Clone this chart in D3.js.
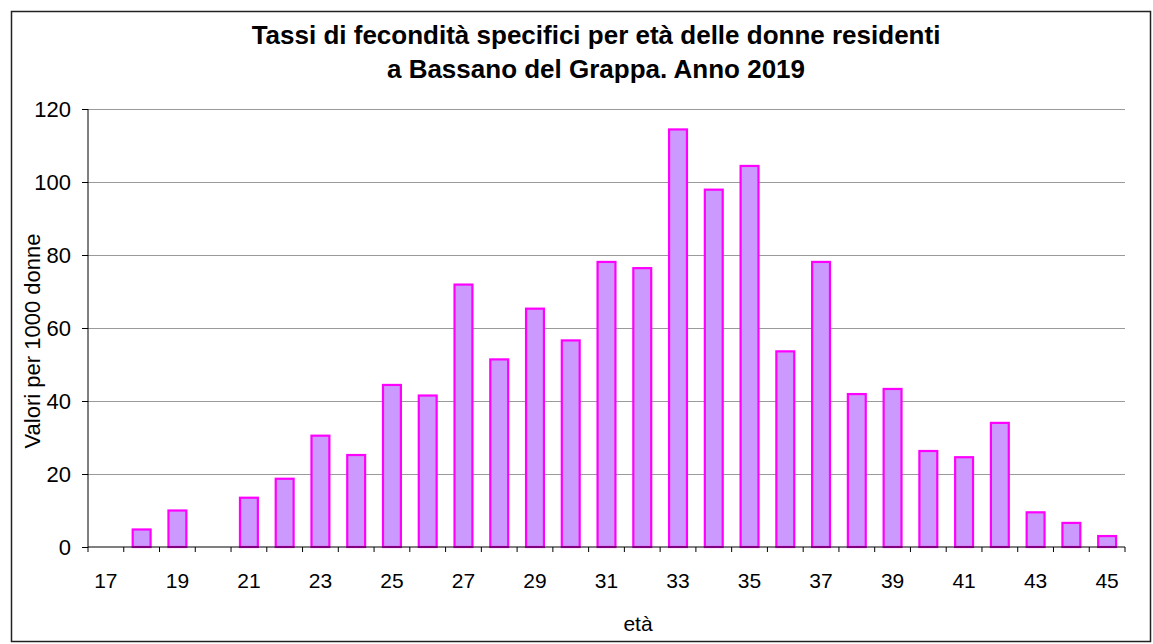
<!DOCTYPE html>
<html>
<head>
<meta charset="utf-8">
<script src="https://cdn.jsdelivr.net/npm/d3@7"></script>
<style>
  body { margin: 0; background: #fff; }
  text { font-family: "Liberation Sans", Arial, sans-serif; fill: #000; }
</style>
</head>
<body>
<svg id="chart" width="1153" height="644"></svg>
<script>
// data
var ages = [17, 18, 19, 20, 21, 22, 23, 24, 25, 26, 27, 28, 29, 30, 31,
    32, 33, 34, 35, 36, 37, 38, 39, 40, 41, 42, 43, 44, 45];
var rates = [0, 4.8, 10.0, 0, 13.5, 18.7, 30.5, 25.2, 44.4, 41.5, 71.9, 51.4, 65.3, 56.6, 78.1,
    76.4, 114.4, 97.9, 104.4, 53.6, 78.1, 41.9, 43.3, 26.3, 24.6, 34.0, 9.5, 6.6, 3.0];
var yTicks = [0, 20, 40, 60, 80, 100, 120];
var xLabels = [17, 19, 21, 23, 25, 27, 29, 31, 33, 35, 37, 39, 41, 43, 45];
var titleLines = ["Tassi di fecondità specifici per età delle donne residenti",
    "a Bassano del Grappa. Anno 2019"];

var plot = { left: 88, right: 1125, top: 109, bottom: 547 };

var svg = d3.select('#chart');

// outer frame
svg.append('rect')
    .attr('x', 11.5).attr('y', 11.5)
    .attr('width', 1139).attr('height', 630)
    .attr('fill', 'none')
    .attr('stroke', '#222')
    .attr('stroke-width', 1.5);

var x = d3.scaleBand()
    .domain(ages)
    .range([plot.left, plot.right])
    .paddingInner(0.5)
    .paddingOuter(0.25);

var y = d3.scaleLinear()
    .domain([0, 120])
    .range([plot.bottom, plot.top]);

var step = x.step();

// gridlines
svg.append('g')
    .selectAll('line')
    .data(yTicks.filter(d => d > 0))
    .enter().append('line')
    .attr('x1', plot.left).attr('x2', plot.right)
    .attr('y1', d => Math.round(y(d)) + 0.5)
    .attr('y2', d => Math.round(y(d)) + 0.5)
    .attr('stroke', '#9a9a9a')
    .attr('stroke-width', 1);

// bars
svg.append('g')
    .selectAll('rect')
    .data(ages.map((a, i) => ({ age: a, v: rates[i] })).filter(d => d.v > 0))
    .enter().append('rect')
    .attr('x', d => x(d.age))
    .attr('width', x.bandwidth())
    .attr('y', d => y(d.v))
    .attr('height', d => plot.bottom - y(d.v))
    .attr('fill', '#cc99ff')
    .attr('stroke', '#ff00ff')
    .attr('stroke-width', 2.2);

// y axis
var yAxis = d3.axisLeft(y)
    .tickValues(yTicks)
    .tickSize(6)
    .tickPadding(11);
var gy = svg.append('g')
    .attr('transform', 'translate(' + plot.left + ',0)')
    .call(yAxis);
gy.selectAll('text')
    .style('font-size', '22px')
    .attr('dy', '0.36em');
gy.selectAll('line, path').attr('stroke', '#000');
gy.select('.domain').attr('d', 'M0,' + plot.top + 'V' + plot.bottom);

// x axis: boundary ticks, labels on odd ages
var gx = svg.append('g');
gx.append('line')
    .attr('x1', plot.left).attr('x2', plot.right)
    .attr('y1', plot.bottom).attr('y2', plot.bottom)
    .attr('stroke', '#000');
gx.selectAll('line.tick')
    .data(ages.concat([null]))
    .enter().append('line')
    .attr('class', 'tick')
    .attr('x1', (d, i) => plot.left + i * step)
    .attr('x2', (d, i) => plot.left + i * step)
    .attr('y1', plot.bottom)
    .attr('y2', plot.bottom + 5)
    .attr('stroke', '#000');
gx.selectAll('text')
    .data(xLabels)
    .enter().append('text')
    .attr('x', d => x(d) + x.bandwidth() / 2)
    .attr('y', 588)
    .attr('text-anchor', 'middle')
    .style('font-size', '21px')
    .text(d => d);

// axis titles
svg.append('text')
    .attr('x', 638).attr('y', 631)
    .attr('text-anchor', 'middle')
    .style('font-size', '21px')
    .text('età');

svg.append('text')
    .attr('transform', 'translate(40,341) rotate(-90)')
    .attr('text-anchor', 'middle')
    .style('font-size', '22px')
    .text('Valori per 1000 donne');

// title
svg.append('g')
    .selectAll('text')
    .data(titleLines)
    .enter().append('text')
    .attr('x', 596)
    .attr('y', (d, i) => 44 + i * 34)
    .attr('text-anchor', 'middle')
    .style('font-size', '26px')
    .style('font-weight', 'bold')
    .text(d => d);
</script>
</body>
</html>
